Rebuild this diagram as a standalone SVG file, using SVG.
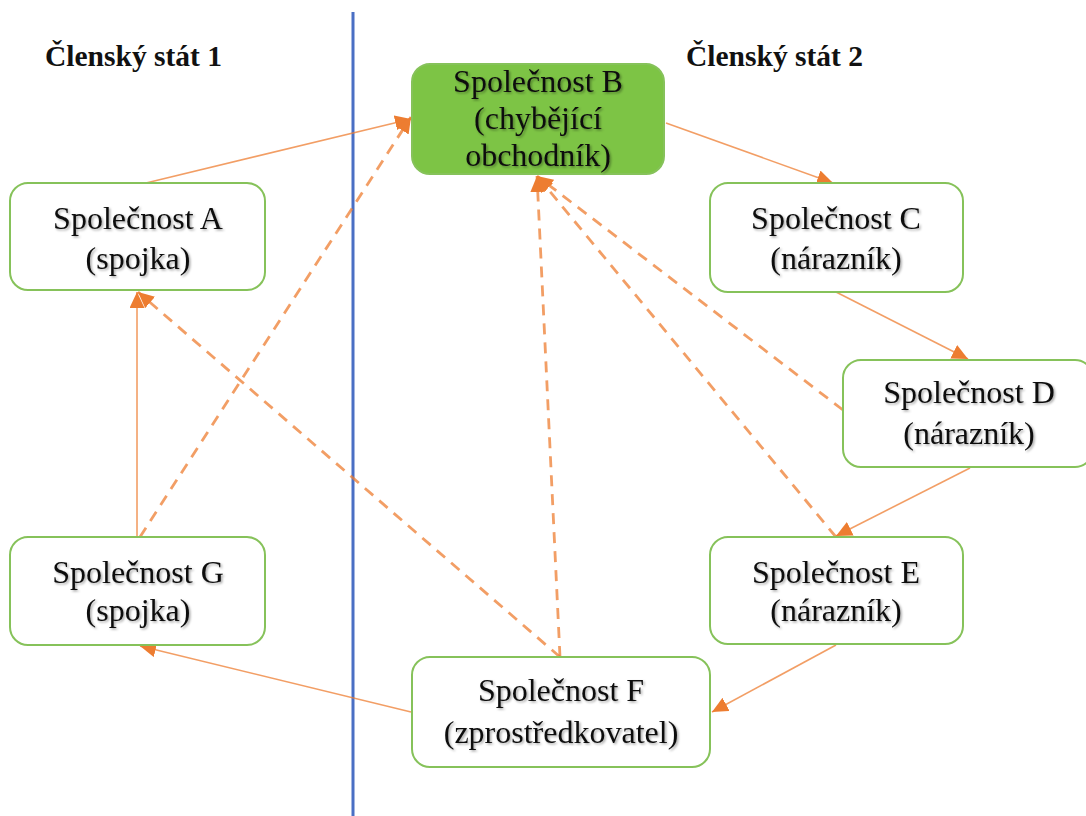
<svg xmlns="http://www.w3.org/2000/svg" width="1086" height="816" viewBox="0 0 1086 816">
  <style>
    .box { fill: #ffffff; stroke: #86C25A; stroke-width: 2; }
    .box-hl { fill: #7DC445; stroke: #86C25A; stroke-width: 2; }
    .lbl { font-family: "Liberation Serif", serif; font-size: 32px; fill: #111111; text-anchor: middle; filter: url(#shade); }
    .head { font-family: "Liberation Serif", serif; font-size: 29.5px; font-weight: bold; fill: #111111; }
    .solid { fill: none; stroke: #ED7D31; stroke-opacity: 0.75; stroke-width: 1.6; marker-end: url(#tip); }
    .dash { fill: none; stroke: #ED7D31; stroke-opacity: 0.75; stroke-width: 2.8; stroke-dasharray: 11 8; marker-end: url(#tip); }
  </style>
  <defs>
    <filter id="shade" x="-10%" y="-30%" width="120%" height="160%">
      <feDropShadow dx="1.5" dy="1.5" stdDeviation="1" flood-color="#000000" flood-opacity="0.35"/>
    </filter>
    <marker id="tip" markerUnits="userSpaceOnUse" markerWidth="17" markerHeight="15" refX="16" refY="7.5" orient="auto">
      <path d="M0,0 L16,7.5 L0,15 Z" fill="#ED7D31"/>
    </marker>
  </defs>

  <rect width="1086" height="816" fill="#ffffff"/>

  <!-- border between the two member states -->
  <line x1="353" y1="12" x2="353" y2="816" stroke="#4A6FC4" stroke-width="3"/>

  <text class="head" x="45" y="66">Členský stát 1</text>
  <text class="head" x="686" y="66">Členský stát 2</text>

  <g id="connectors">
    <!-- goods flow (solid) -->
    <path class="solid" d="M146,183 L411,119"/>
    <path class="solid" d="M666,123 L833,183"/>
    <path class="solid" d="M836,292 L968,359"/>
    <path class="solid" d="M970,468 L836,536"/>
    <path class="solid" d="M836,645 L712,712"/>
    <path class="solid" d="M411,712 L140,646"/>
    <path class="solid" d="M137,537 L137,292"/>
    <!-- invoicing flow (dashed) -->
    <path class="dash" d="M140,537 L411,117"/>
    <path class="dash" d="M560,657 L138,292"/>
    <path class="dash" d="M560,657 L537,176"/>
    <path class="dash" d="M843,410 L537,176"/>
    <path class="dash" d="M836,537 L537,176"/>
  </g>

  <g id="node-a">
    <rect class="box" x="10" y="183" width="255" height="107" rx="18"/>
    <text class="lbl" x="138" y="229">Společnost A</text>
    <text class="lbl" x="138" y="269">(spojka)</text>
  </g>
  <g id="node-b">
    <rect class="box-hl" x="412" y="64" width="252" height="110" rx="18"/>
    <text class="lbl" x="538" y="92">Společnost B</text>
    <text class="lbl" x="538" y="129">(chybějící</text>
    <text class="lbl" x="538" y="166">obchodník)</text>
  </g>
  <g id="node-c">
    <rect class="box" x="710" y="183" width="253" height="109" rx="18"/>
    <text class="lbl" x="836" y="229">Společnost C</text>
    <text class="lbl" x="836" y="269">(nárazník)</text>
  </g>
  <g id="node-d">
    <rect class="box" x="843" y="360" width="250" height="107" rx="18"/>
    <text class="lbl" x="969" y="403">Společnost D</text>
    <text class="lbl" x="969" y="444">(nárazník)</text>
  </g>
  <g id="node-e">
    <rect class="box" x="710" y="537" width="253" height="107" rx="18"/>
    <text class="lbl" x="836" y="583">Společnost E</text>
    <text class="lbl" x="836" y="621">(nárazník)</text>
  </g>
  <g id="node-f">
    <rect class="box" x="412" y="657" width="298" height="110" rx="18"/>
    <text class="lbl" x="561" y="701">Společnost F</text>
    <text class="lbl" x="561" y="743">(zprostředkovatel)</text>
  </g>
  <g id="node-g">
    <rect class="box" x="10" y="537" width="255" height="108" rx="18"/>
    <text class="lbl" x="138" y="583">Společnost G</text>
    <text class="lbl" x="138" y="621">(spojka)</text>
  </g>
</svg>
